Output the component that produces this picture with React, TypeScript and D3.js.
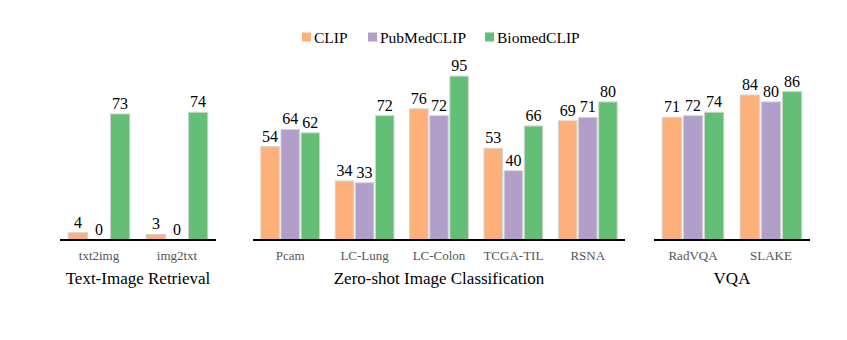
import React from "react";
import * as d3 from "d3";

const seriesNames = ["CLIP", "PubMedCLIP", "BiomedCLIP"];
const seriesColors = ["#FDB07A", "#B19FCA", "#63BE76"];

const retrievalCats = ["txt2img", "img2txt"];
const retrievalClip = [4, 3];
const retrievalPubMed = [0, 0];
const retrievalBiomed = [73, 74];

const zsCats = ["Pcam", "LC-Lung", "LC-Colon", "TCGA-TIL", "RSNA"];
const zsClip = [54, 34, 76, 53, 69];
const zsPubMed = [64, 33, 72, 40, 71];
const zsBiomed = [62, 72, 95, 66, 80];

const vqaCats = ["RadVQA", "SLAKE"];
const vqaClip = [71, 84];
const vqaPubMed = [72, 80];
const vqaBiomed = [74, 86];

const panels = [
  { title: "Text-Image Retrieval", cats: retrievalCats, vals: [retrievalClip, retrievalPubMed, retrievalBiomed], x0: 60, x1: 216 },
  { title: "Zero-shot Image Classification", cats: zsCats, vals: [zsClip, zsPubMed, zsBiomed], x0: 253, x1: 625 },
  { title: "VQA", cats: vqaCats, vals: [vqaClip, vqaPubMed, vqaBiomed], x0: 654, x1: 810 },
];

const legendPos = [
  { sq: 302, tx: 314 },
  { sq: 368, tx: 380 },
  { sq: 485, tx: 497 },
];

const FONT = "'Liberation Serif', 'Times New Roman', Times, serif";
const tStyle = { fontFamily: FONT };

export default function App() {
  const W = 847, H = 340;
  const baseY = 239.5;
  const y = d3.scaleLinear().domain([0, 100]).range([baseY, baseY - 172]);
  return (
    <svg width={W} height={H} style={{ position: "absolute", left: 0, top: 0, background: "#fff", fontFamily: FONT }}>
      {seriesNames.map((s, i) => (
        <g key={s}>
          <rect x={legendPos[i].sq} y={32.5} width={9} height={9} fill={seriesColors[i]} />
          <text x={legendPos[i].tx} y={42.5} fontSize={15.5} fill="#000" style={tStyle}>{s}</text>
        </g>
      ))}
      {panels.map((p) => {
        const xo = d3.scaleBand<string>().domain(p.cats).range([p.x0, p.x1]).paddingInner(0.21).paddingOuter(0.105);
        const xi = d3.scaleBand<string>().domain(seriesNames).range([0, xo.bandwidth()]).paddingInner(0.08).paddingOuter(0);
        return (
          <g key={p.title}>
            {p.cats.map((c, ci) => (
              <g key={c} transform={`translate(${xo(c)},0)`}>
                {seriesNames.map((s, si) => {
                  const v = p.vals[si][ci];
                  const top = y(v);
                  return (
                    <g key={s}>
                      {v > 0 && (
                        <rect x={xi(s)} y={top} width={xi.bandwidth()} height={baseY - top}
                          fill={seriesColors[si]} stroke="#d4d4d4" strokeWidth={1} />
                      )}
                      <text x={(xi(s) || 0) + xi.bandwidth() / 2} y={top - 5} textAnchor="middle" fontSize={16} fill="#000" style={tStyle}>{v}</text>
                    </g>
                  );
                })}
                <text x={xo.bandwidth() / 2} y={260} textAnchor="middle" fontSize={13} fill="#555" style={tStyle}>{c}</text>
              </g>
            ))}
            <line x1={p.x0} x2={p.x1} y1={baseY + 0.5} y2={baseY + 0.5} stroke="#000" strokeWidth={2} />
            <text x={(p.x0 + p.x1) / 2} y={284} textAnchor="middle" fontSize={17} fill="#000" style={tStyle}>{p.title}</text>
          </g>
        );
      })}
    </svg>
  );
}
